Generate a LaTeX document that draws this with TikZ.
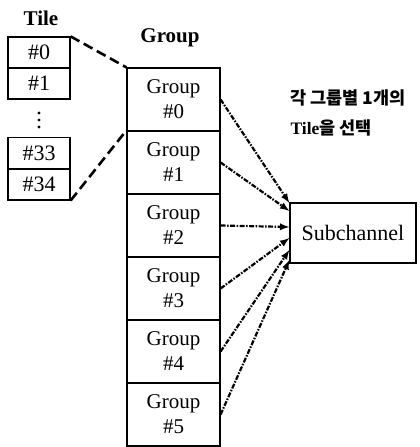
\documentclass[tikz,border=0pt]{standalone}
\usepackage{fontspec}
\setmainfont{Liberation Serif}
\newfontfamily\cjk{Noto Sans CJK KR}
\usepackage{tikz}
\usetikzlibrary{arrows}

\tikzset{
  tilebox/.style={draw, line width=1.2pt, minimum width=62, minimum height=31, inner sep=0pt, font=\fontsize{22}{24}\selectfont},
  groupbox/.style={draw, line width=1.2pt, minimum width=93, minimum height=63, inner sep=0pt, align=center, font=\fontsize{21}{25}\selectfont},
  link/.style={line width=2.6pt, dash pattern=on 10pt off 5pt},
  pick/.style={-latex, line width=2.2pt, dash pattern=on 5pt off 1.5pt on 1.5pt off 1.5pt}
}

\begin{document}
\begin{tikzpicture}[x=1pt,y=-1pt]
  \useasboundingbox (0,0) rectangle (420,447);
  \node [font=\bfseries\fontsize{21}{24}\selectfont] (tiletitle) at (41,18) {Tile};
  \node [font=\bfseries\fontsize{21}{24}\selectfont] (grouptitle) at (170,38) {Group};
  \node [tilebox] (t0) at (39,52.5) {\#0};
  \node [tilebox] (t1) at (39,83.5) {\#1};
  \foreach \y in {113,120,127}
    \fill (39,\y) circle (1.7);
  \node [tilebox] (t33) at (39,153) {\#33};
  \node [tilebox] (t34) at (39,184.5) {\#34};
  \foreach \i in {0,...,5}
    \node [groupbox] (g\i) at (173.5,99.5+63*\i) {Group\\\#\i};
  \node [draw, line width=1.2pt, minimum width=126, minimum height=60, font=\fontsize{22}{24}\selectfont] (sub) at (353,233) {Subchannel};
  \node [anchor=west, font=\bfseries\fontsize{17.5}{20}\selectfont] (note1) at (287,98) {\cjk{각 그룹별} 1\cjk{개의}};
  \node [anchor=west, font=\bfseries\fontsize{17.5}{20}\selectfont] (note2) at (287,128) {Tile\cjk{을 선택}};
  \draw [link] (t0.north east) -- (g0.north west);
  \draw [link] (t34.south east) -- (g1.north west);
  \foreach \i/\d in {0/30,1/22,2/6,3/-5,4/-17,5/-27}
    \draw [pick] (g\i.east) -- ([yshift=\d pt]sub.west);
\end{tikzpicture}
\end{document}
